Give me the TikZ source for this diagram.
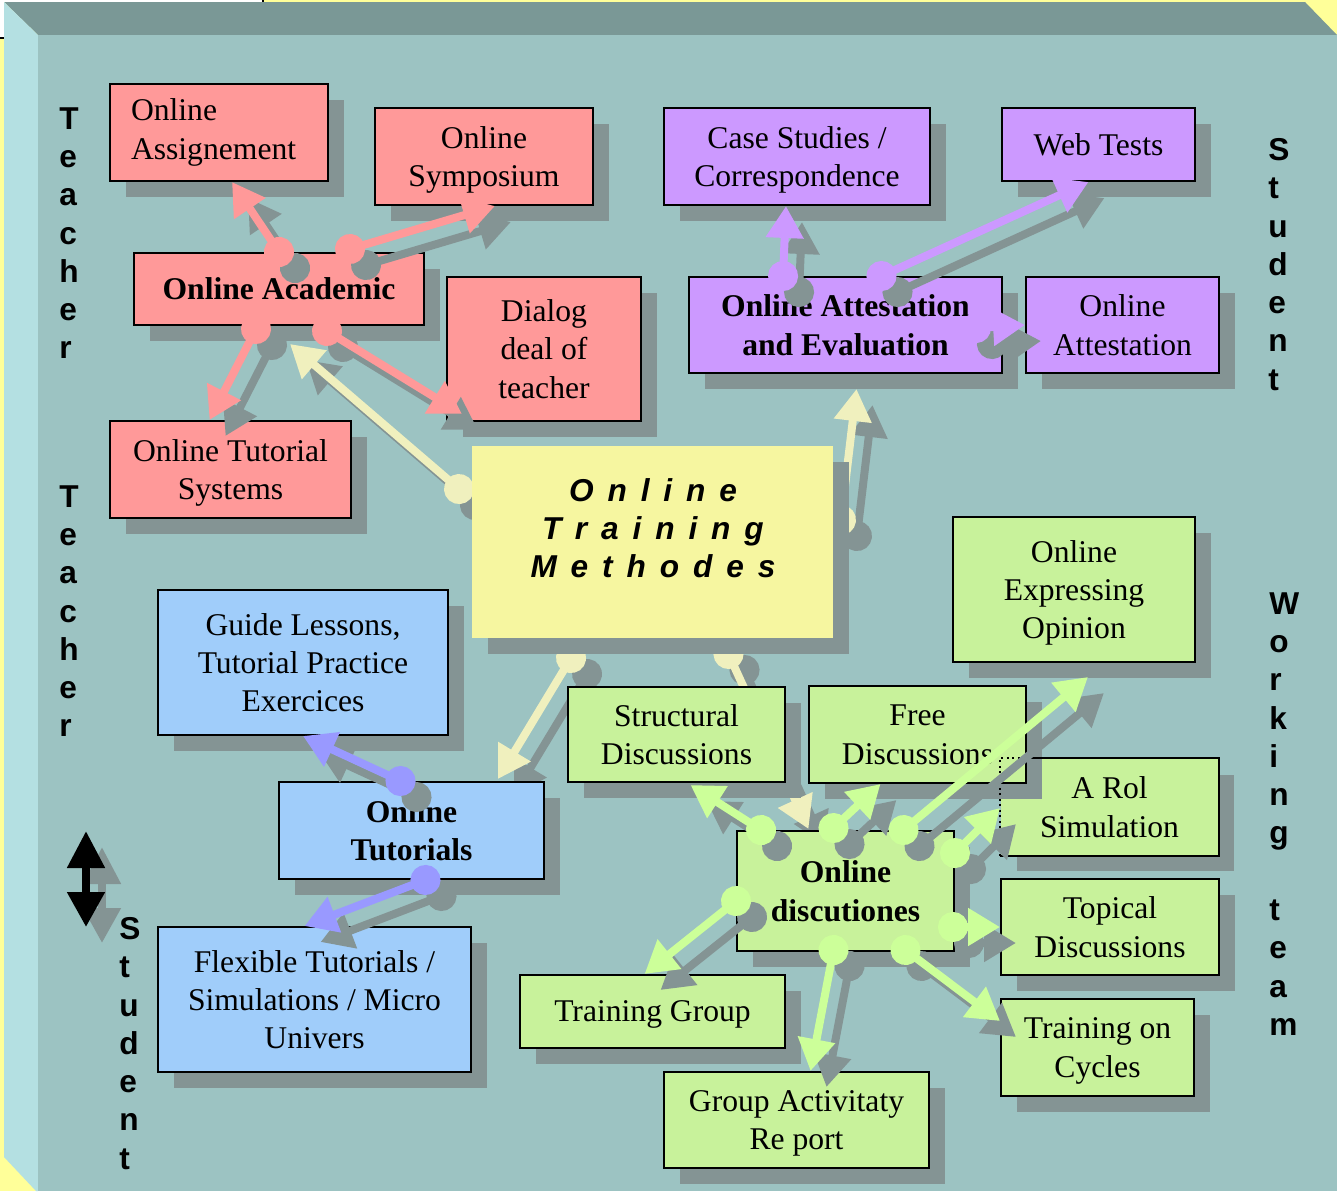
\documentclass[tikz,border=0pt]{standalone}
\usepackage{fontspec}
\setmainfont{Liberation Serif}
\newfontfamily\sidefont{Liberation Sans}
\newfontfamily\otmfont[LetterSpace=44]{Liberation Sans}
\usepackage{tikz}
\usetikzlibrary{positioning,calc,shadows,arrows.meta}

\definecolor{bgyellow}{RGB}{255,255,153}
\definecolor{panelc}{RGB}{156,195,194}
\definecolor{paneltop}{RGB}{122,152,150}
\definecolor{panelleft}{RGB}{180,224,226}
\definecolor{shadowc}{RGB}{132,148,148}
\definecolor{redc}{RGB}{255,153,153}
\definecolor{purpc}{RGB}{204,153,255}
\definecolor{yelc}{RGB}{246,246,160}
\definecolor{bluec}{RGB}{160,205,250}
\definecolor{greenc}{RGB}{200,242,155}
\definecolor{bluearc}{RGB}{153,153,255}
\definecolor{greenarc}{RGB}{204,255,153}
\definecolor{yelarc}{RGB}{240,240,190}

\pgfdeclarelayer{back}
\pgfsetlayers{back,main}

\newcommand{\boxfont}{\fontsize{18}{21.9}\selectfont}
% connector with its grey shadow
\newcommand{\arr}[3]{%
  \draw[conn,#1,color=shadowc,transform canvas={shift={(0.32cm,-0.32cm)}}] #2 -- #3;
  \draw[conn,#1] #2 -- #3;}

\tikzset{
  box/.style={draw=black, line width=0.04cm, inner sep=0pt, align=center, font=\boxfont, text depth=0pt,
    drop shadow={shadow xshift=0.32cm, shadow yshift=-0.32cm, opacity=1, fill=shadowc}},
  bf/.style={font=\boxfont\bfseries},
  redbox/.style={box, fill=redc},
  purpbox/.style={box, fill=purpc},
  bluebox/.style={box, fill=bluec},
  greenbox/.style={box, fill=greenc},
  ybox/.style={box, draw=none, fill=yelc},
  otmtext/.style={font=\otmfont\bfseries\itshape\fontsize{18}{21.6}\selectfont, align=center, inner sep=0pt},
  side/.style={font=\sidefont\bfseries\fontsize{18}{21.8}\selectfont, align=left, inner sep=0pt, anchor=north west},
  conn/.style={line width=0.16cm, shorten <=-0.3cm,
    arrows={Circle[length=0.6cm]-Triangle[length=0.64cm,width=0.72cm]}},
  redarr/.style={color=redc},
  purparr/.style={color=purpc},
  bluearr/.style={color=bluearc},
  greenarr/.style={color=greenarc},
  yelarr/.style={color=yelarc},
  vert/.style={line width=0.16cm, arrows={Triangle[length=0.74cm,width=0.72cm]-Triangle[length=0.7cm,width=0.72cm]}}
}

\begin{document}
\begin{tikzpicture}[x=0.02cm,y=-0.02cm]
\useasboundingbox (0,0) rectangle (1337,1191);

% the panel
\begin{pgfonlayer}{back}
\fill[bgyellow] (0,0) rectangle (1337,1191);
\fill[white] (0,0) rectangle (263,2);
\fill[white] (0,0) rectangle (4,38);
\draw[black, line width=0.04cm] (0,38) -- (4,38);
\draw[black, line width=0.04cm] (263,0) -- (263,3);
\fill[paneltop] (4,2) -- (1305,2) -- (1337,35) -- (38,35) -- cycle;
\fill[panelleft] (4,2) -- (38,35) -- (38,1191) -- (36,1191) -- (4,1157) -- cycle;
\fill[panelc] (38,35) rectangle (1337,1191);
\end{pgfonlayer}

% Teacher side
\node[redbox, align=left, text width=3.52cm, text depth=, minimum width=4.36cm, minimum height=1.94cm] (assign) at (219,132.5) {Online\\Assignement};
\node[redbox, minimum width=4.36cm, minimum height=1.94cm] (sympo) at (484,156.5) {Online\\Symposium};
\node[redbox, bf, minimum width=5.8cm, minimum height=1.44cm] (acad) at (279,289) {Online Academic};
\node[redbox, minimum width=3.88cm, minimum height=2.88cm] (dialog) at (544,349) {Dialog\\deal of\\teacher};
\node[redbox, minimum width=4.82cm, minimum height=1.94cm] (tutsys) at (230.5,469.5) {Online Tutorial\\Systems};

% Student side
\node[purpbox, minimum width=5.32cm, minimum height=1.94cm] (cases) at (797,156.5) {Case Studies /\\Correspondence};
\node[purpbox, minimum width=3.86cm, minimum height=1.46cm] (webt) at (1098.5,144.5) {Web Tests};
\node[purpbox, bf, minimum width=6.26cm, minimum height=1.92cm] (attev) at (845.5,325) {Online Attestation\\and Evaluation};
\node[purpbox, minimum width=3.86cm, minimum height=1.92cm] (attest) at (1122.5,325) {Online\\Attestation};

% centre
\node[ybox, minimum width=7.22cm, minimum height=3.84cm] (otm) at (652.5,542) {};
\node[otmtext] (otmlabel) at (653,528.5) {Online\\Training\\Methodes};

% Teacher - Student
\node[bluebox, minimum width=5.8cm, minimum height=2.9cm] (guide) at (303,662.5) {Guide Lessons,\\Tutorial Practice\\Exercices};
\node[bluebox, bf, minimum width=5.3cm, minimum height=1.94cm] (tutor) at (411.5,830.5) {Online\\Tutorials};
\node[bluebox, minimum width=6.26cm, minimum height=2.9cm] (flex) at (314.5,999.5) {Flexible Tutorials /\\Simulations / Micro\\Univers};

% Working team
\node[greenbox, minimum width=4.84cm, minimum height=2.9cm] (express) at (1074,589.5) {Online\\Expressing\\Opinion};
\node[greenbox, minimum width=4.34cm, minimum height=1.9cm] (struct) at (676.5,734.5) {Structural\\Discussions};
\node[greenbox, draw=none, minimum width=4.34cm, minimum height=1.92cm] (arol) at (1109.5,807) {A Rol\\Simulation};
\node[greenbox, minimum width=4.34cm, minimum height=1.94cm] (free) at (917.5,734.5) {Free\\Discussions};
\node[greenbox, bf, minimum width=4.34cm, minimum height=2.4cm] (disc) at (845.5,891) {Online\\discutiones};
\node[greenbox, minimum width=4.36cm, minimum height=1.92cm] (topic) at (1110,927) {Topical\\Discussions};
\node[greenbox, minimum width=5.3cm, minimum height=1.46cm] (tgroup) at (652.5,1011.5) {Training Group};
\node[greenbox, minimum width=5.3cm, minimum height=1.92cm] (gact) at (796.5,1120) {Group Activitaty\\Re port};
\node[greenbox, minimum width=3.86cm, minimum height=1.94cm] (tcyc) at (1097.5,1047.5) {Training on\\Cycles};
\draw[line width=0.04cm] ($(arol.north west)+(25,0)$) -- (arol.north east) -- (arol.south east) -- (arol.south west);
\draw[line width=0.04cm, dotted] (arol.south west) -- (arol.north west) -- ($(arol.north west)+(25,0)$);

% side words
\node[side] (teach1) at (59,107) {T\\e\\a\\c\\h\\e\\r};
\node[side] (teach2) at (59,485) {T\\e\\a\\c\\h\\e\\r};
\node[side] (stud1) at (1268,138) {S\\t\\u\\d\\e\\n\\t};
\node[side] (stud2) at (119,917) {S\\t\\u\\d\\e\\n\\t};
\node[side] (work) at (1269,592) {W\\o\\r\\k\\i\\n\\g\\ \\t\\e\\a\\m};

\coordinate (vtop) at (86,831);
\coordinate (vbot) at (86,927);
\draw[vert, color=shadowc, transform canvas={shift={(0.32cm,-0.32cm)}}] (vtop) -- (vbot);
\draw[vert, black] (vtop) -- (vbot);

% yellow arrows run under the boxes
\begin{pgfonlayer}{back}
\arr{yelarr}{($(otm.north west)+(-12,44)$)}{($(acad.south)+(11,18)$)}
\arr{yelarr}{($(otm.east)+(7,-22)$)}{($(attev.south)+(11,15)$)}
\arr{yelarr}{($(otm.south west)+(100,19)$)}{($(tutor.north east)+(-47,-2)$)}
\arr{yelarr}{($(otm.south)+(76,15)$)}{($(disc.north)+(-37,-1)$)}
\end{pgfonlayer}

% red
\arr{redarr}{(acad.north)}{($(assign.south)+(13,0)$)}
\arr{redarr}{($(acad.north)+(71,-3)$)}{($(sympo.south)+(11,0)$)}
\arr{redarr}{($(acad.south)+(-23,3)$)}{($(tutsys.north)+(-21,0)$)}
\arr{redarr}{($(acad.south)+(48,5)$)}{($(dialog.south west)+(16,-8)$)}
% purple
\arr{purparr}{($(attev.north west)+(95,0)$)}{($(cases.south)+(-11,0)$)}
\arr{purparr}{($(attev.north)+(36,0)$)}{($(webt.south)+(-10,0)$)}
\arr{purparr}{($(attev.east)+(-27,3)$)}{(attest.west)}
% blue
\arr{bluearr}{($(tutor.north)+(-11,0)$)}{(guide.south)}
\arr{bluearr}{($(tutor.south)+(14,0)$)}{($(flex.north)+(-10,0)$)}
% green
\arr{greenarr}{($(disc.north west)+(25,0)$)}{($(struct.south)+(14,2)$)}
\arr{greenarr}{($(disc.north)+(-12,-2)$)}{($(free.south)+(-37,0)$)}
\arr{greenarr}{($(disc.north)+(58,0)$)}{($(express.south)+(14,14)$)}
\arr{greenarr}{($(disc.north east)+(0,23)$)}{($(arol.west)+(0,1)$)}
\arr{greenarr}{($(disc.south east)+(-2,-25)$)}{(topic.west)}
\arr{greenarr}{($(disc.west)+(0,10)$)}{($(tgroup.north)+(-8,0)$)}
\arr{greenarr}{($(disc.south)+(-12,-2)$)}{($(gact.north)+(14,0)$)}
\arr{greenarr}{($(disc.south)+(60,-2)$)}{($(tcyc.north west)+(0,23)$)}
\end{tikzpicture}
\end{document}
